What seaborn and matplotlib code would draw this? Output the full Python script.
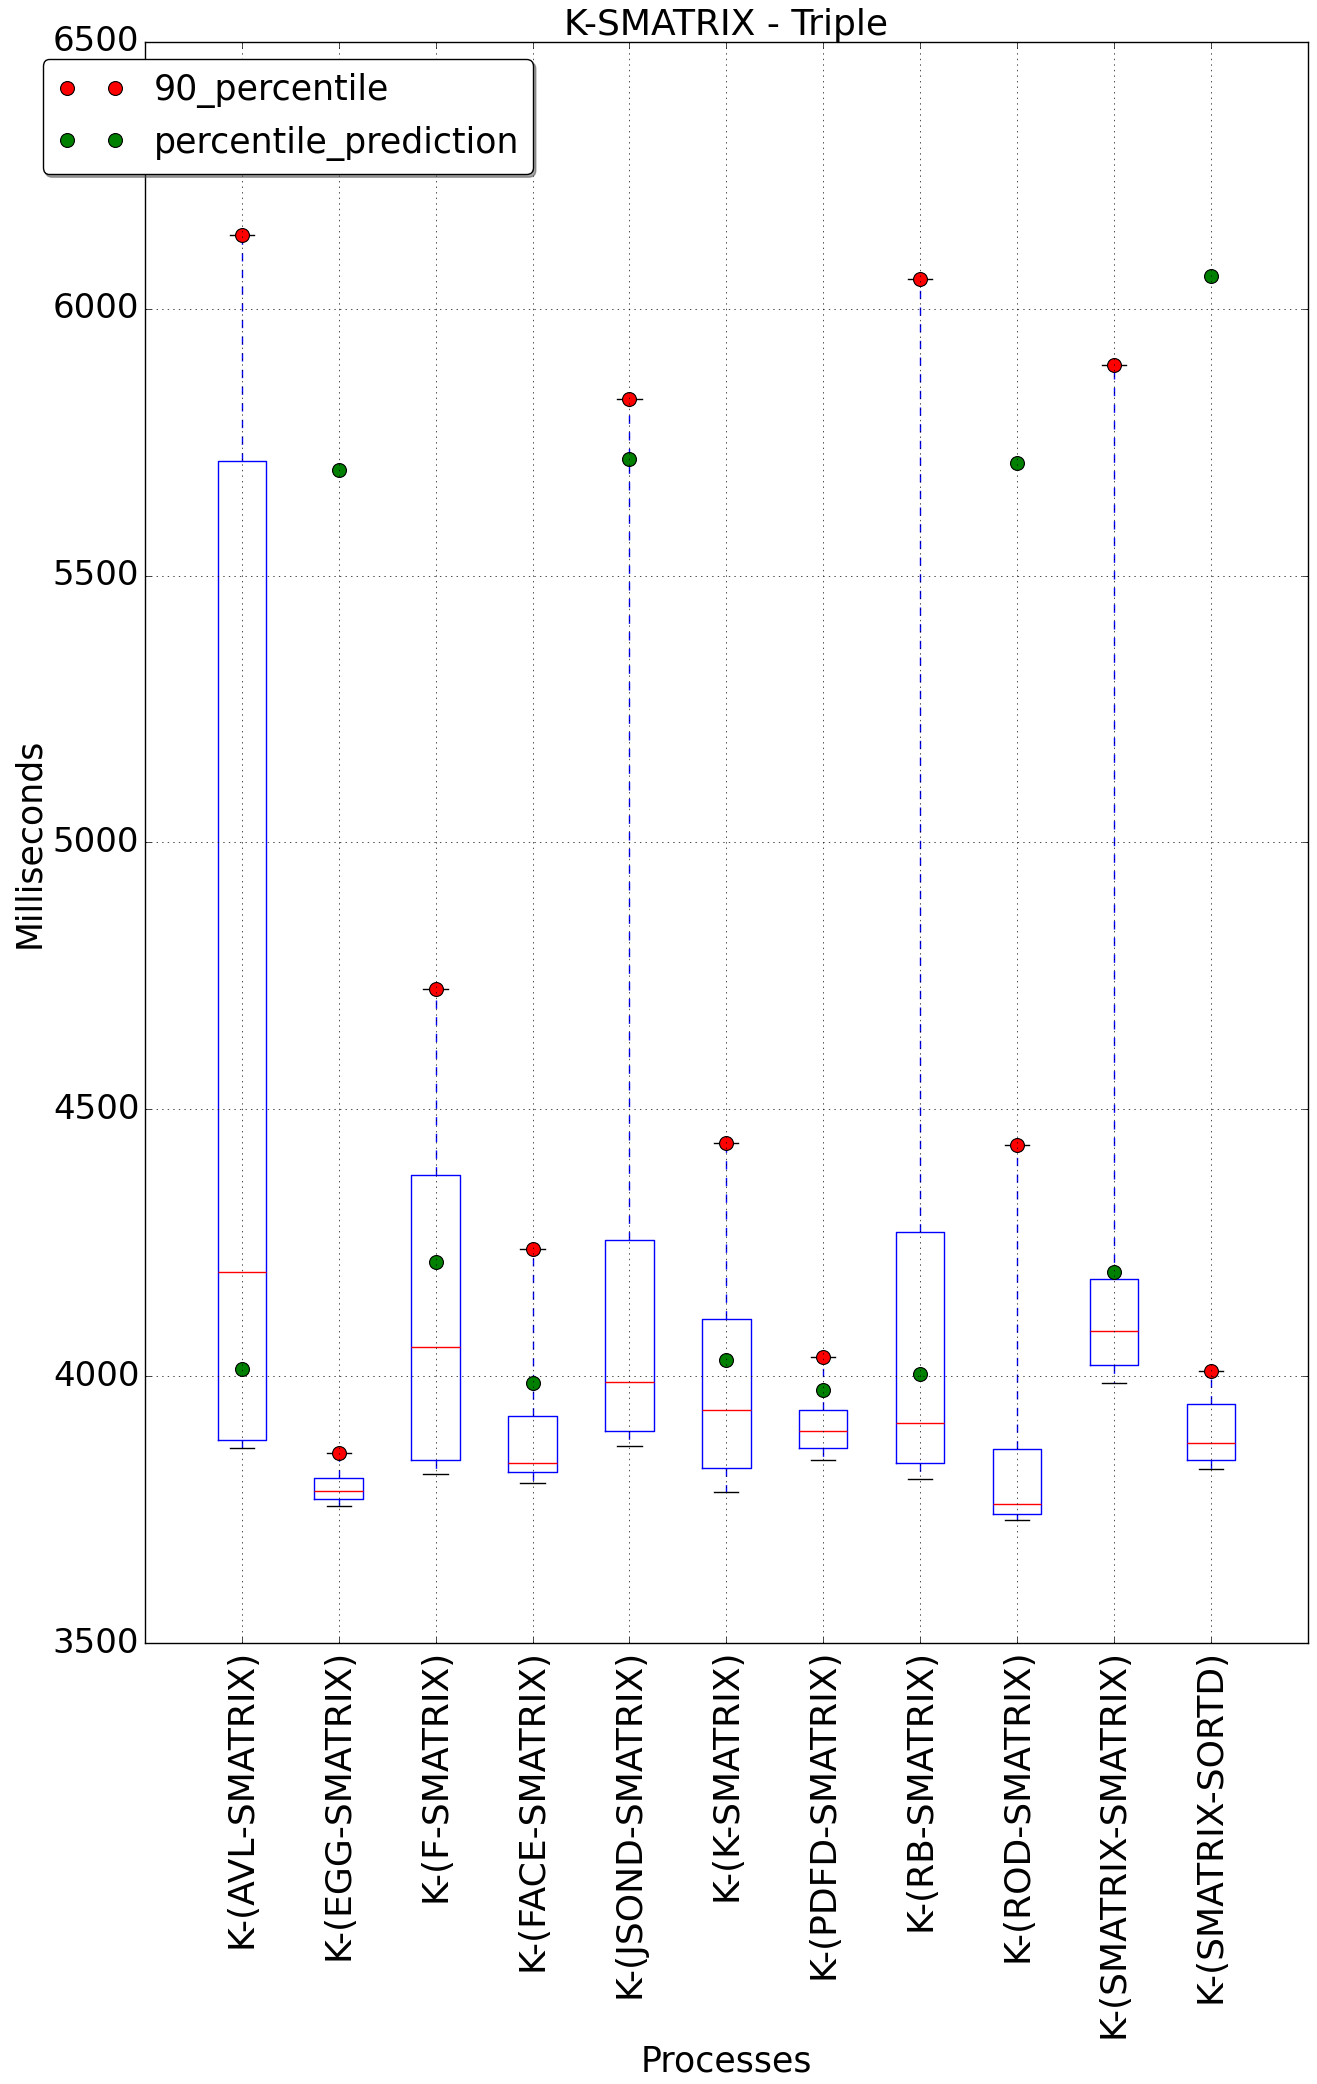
import pandas as pd
import matplotlib
matplotlib.use("Agg")
import matplotlib.pyplot as plt
from matplotlib.lines import Line2D
import seaborn as sns

processes = ['K-(AVL-SMATRIX)', 'K-(EGG-SMATRIX)', 'K-(F-SMATRIX)', 'K-(FACE-SMATRIX)',
             'K-(JSOND-SMATRIX)', 'K-(K-SMATRIX)', 'K-(PDFD-SMATRIX)', 'K-(RB-SMATRIX)',
             'K-(ROD-SMATRIX)', 'K-(SMATRIX-SMATRIX)', 'K-(SMATRIX-SORTD)']

# box statistics (ms)
whisker_low = [3865, 3757, 3817, 3801, 3869, 3783, 3843, 3807, 3730, 3987, 3826]
q1 = [3880, 3770, 3843, 3820, 3897, 3828, 3865, 3837, 3742, 4022, 3843]
median = [4195, 3786, 4054, 3837, 3989, 3937, 3897, 3912, 3760, 4084, 3875]
q3 = [5715, 3809, 4377, 3925, 4255, 4107, 3936, 4270, 3863, 4183, 3949]
percentile_90 = [6138, 3856, 4726, 4238, 5830, 4437, 4037, 6056, 4434, 5895, 4010]
percentile_prediction = [4013, 5698, 4215, 3987, 5718, 4030, 3974, 4004, 5710, 4195, 6061]

# five points per process reproduce min / quartiles / max exactly
rows = []
for i, p in enumerate(processes):
    for v in (whisker_low[i], q1[i], median[i], q3[i], percentile_90[i]):
        rows.append({'process': p, 'ms': v})
df = pd.DataFrame(rows)

sns.set_style("white")
plt.style.use('classic')
plt.rcParams['figure.facecolor'] = 'white'
plt.rcParams['savefig.facecolor'] = 'white'
plt.rcParams['font.family'] = ['DejaVu Sans']
plt.rcParams['font.size'] = 25

fig, ax = plt.subplots(figsize=(13.17, 20.84), dpi=100)
fig.subplots_adjust(left=0.110, right=0.993, bottom=0.2115, top=0.980)

sns.boxplot(data=df, x='process', y='ms', order=processes, whis=(0, 100),
            width=0.5, fill=False, linecolor='blue', linewidth=1.0,
            showfliers=False, ax=ax,
            boxprops=dict(color='blue'),
            medianprops=dict(color='red'),
            whiskerprops=dict(color='blue', linestyle=(0, (6, 6))),
            capprops=dict(color='black'))

sns.stripplot(x=processes, y=percentile_90, order=processes, jitter=False,
              color='red', size=10, linewidth=0.8, edgecolor='black',
              ax=ax, zorder=2.2)
sns.stripplot(x=processes, y=percentile_prediction, order=processes, jitter=False,
              color='green', size=10, linewidth=0.8, edgecolor='black',
              ax=ax, zorder=2.2)

ax.set_xlim(-1, len(processes))
ax.set_ylim(3500, 6500)
ax.set_yticks(range(3500, 7000, 500))
ax.set_xticks(range(len(processes)))
ax.set_xticklabels(processes, rotation=90, fontsize=26)
ax.tick_params(axis='y', labelsize=24.5)
ax.grid(True, color='black', linestyle=':', linewidth=0.5)

ax.set_title('K-SMATRIX - Triple', fontsize=26)
ax.set_ylabel('Milliseconds', fontsize=25)
ax.set_xlabel('Processes', fontsize=25)

handles = [Line2D([], [], linestyle='none', marker='o', markersize=10,
                  markerfacecolor='red', markeredgecolor='black', markeredgewidth=0.8),
           Line2D([], [], linestyle='none', marker='o', markersize=10,
                  markerfacecolor='green', markeredgecolor='black', markeredgewidth=0.8)]
ax.legend(handles, ['90_percentile', 'percentile_prediction'],
          loc='upper left', bbox_to_anchor=(-0.088, 0.989), borderaxespad=0,
          numpoints=2, fancybox=True, shadow=True, fontsize=25)

fig.savefig('out.png', dpi=100)
